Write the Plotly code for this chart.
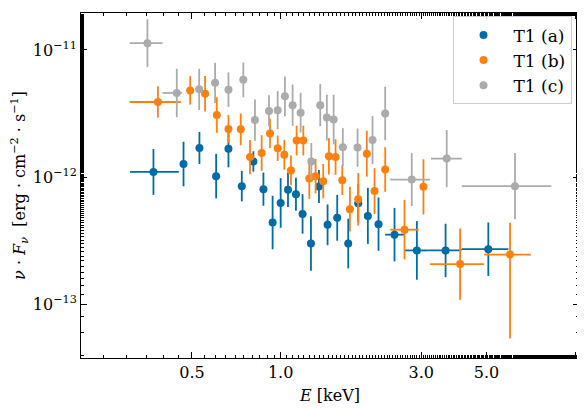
import numpy as np
import plotly.graph_objects as go

# --- data ---
E_a = [0.370,0.468,0.530,0.604,0.665,0.738,0.808,0.874,0.939,1.0,1.059,1.127,1.187,1.267,1.349,1.443,1.556,1.696,1.834,1.977,2.149,2.435,2.90,3.63,5.07]
F_a = [1.10,1.27,1.70,1.02,1.67,0.851,1.33,0.806,0.441,0.628,0.797,0.734,0.515,0.301,0.846,0.423,0.480,0.301,0.624,0.497,0.428,0.354,0.266,0.266,0.272]
dF_a = [0.18,0.175,0.126,0.175,0.145,0.12,0.08,0.13,0.21,0.195,0.136,0.13,0.155,0.214,0.13,0.16,0.18,0.195,0.15,0.22,0.21,0.21,0.23,0.21,0.21]
wide_a = {0:(0.308,0.451),21:(2.264,2.645),22:(2.645,3.17),23:(3.17,4.11),24:(4.11,5.93)}

E_b = [0.383,0.493,0.554,0.607,0.665,0.732,0.787,0.862,0.920,0.977,1.029,1.084,1.133,1.194,1.251,1.314,1.395,1.458,1.536,1.619,1.718,1.834,1.961,2.083,2.264,2.633,3.053,4.066,6.005]
F_b = [3.90,4.81,4.53,3.08,2.39,2.38,1.44,1.55,2.21,1.69,1.50,1.13,1.94,1.94,0.977,1.02,0.931,1.46,1.44,0.948,0.561,0.671,1.53,0.778,1.15,0.387,0.840,0.208,0.247]
dFu_b = [0.123,0.112,0.14,0.14,0.11,0.125,0.135,0.14,0.115,0.1,0.117,0.117,0.117,0.117,0.16,0.135,0.135,0.143,0.14,0.117,0.175,0.207,0.18,0.18,0.175,0.233,0.217,0.28,0.25]
dFd_b = dFu_b[:-1] + [0.66]
wide_b = {0:(0.307,0.458),25:(2.354,2.94),27:(3.214,4.90),28:(4.91,7.07)}

E_c = [0.353,0.444,0.529,0.599,0.665,0.747,0.818,0.913,0.977,1.034,1.098,1.169,1.271,1.363,1.435,1.513,1.626,1.824,2.051,2.264,2.787,3.662,6.245]
F_c = [11.3,4.59,4.90,5.51,4.87,5.82,2.81,3.32,3.36,4.32,3.68,3.21,1.33,3.68,2.94,2.84,1.72,1.71,1.96,3.17,0.959,1.40,0.851]
dF_c = [0.188,0.19,0.162,0.158,0.136,0.136,0.162,0.123,0.15,0.156,0.162,0.156,0.145,0.166,0.18,0.195,0.15,0.15,0.188,0.21,0.207,0.224,0.26]
wide_c = {0:(0.307,0.397),1:(0.397,0.462),20:(2.354,3.214),21:(3.24,4.12),22:(4.12,8.3)}

names = ["T1 (a)", "T1 (b)", "T1 (c)"]
colors = ["#006BA4", "#FF800E", "#ABABAB"]
NARROW = 0.012

def xerrs(E, wide):
    plus, minus = [], []
    for i, e in enumerate(E):
        if i in wide:
            lo, hi = wide[i]
        else:
            lo, hi = e * 10**-NARROW, e * 10**NARROW
        plus.append(hi - e); minus.append(e - lo)
    return plus, minus

fig = go.Figure()
series = [(E_a, F_a, dF_a, dF_a, wide_a), (E_b, F_b, dFu_b, dFd_b, wide_b), (E_c, F_c, dF_c, dF_c, wide_c)]
for (E, F, du, dd, wide), nm, col in zip(series, names, colors):
    F = np.array(F) * 1e-12
    du = np.array(du); dd = np.array(dd)
    xp, xm = xerrs(E, wide)
    fig.add_trace(go.Scatter(
        x=E, y=F, mode="markers", name=nm,
        marker=dict(color=col, size=8),
        error_y=dict(type="data", array=F * (10**du - 1), arrayminus=F * (1 - 10**-dd),
                     color=col, thickness=1.8, width=0),
        error_x=dict(type="data", array=xp, arrayminus=xm, color=col, thickness=1.8, width=0),
    ))

font = dict(family="DejaVu Serif", size=16, color="black")
axis_common = dict(type="log", showgrid=False, zeroline=False, showline=True, linecolor="black",
                   linewidth=1, mirror="allticks", ticks="inside", ticklen=6, tickcolor="black",
                   tickfont=font, automargin=False)
fig.update_xaxes(**axis_common, range=[np.log10(0.21), np.log10(10.3)],
                 tickvals=[0.5, 1.0, 3.0, 5.0, 10.0], ticktext=["0.5", "1.0", "3.0", "5.0", "10.0"],
                 minor=dict(ticks="inside", ticklen=3, tickcolor="black", showgrid=False),
                 title=dict(text="<i>E</i> [keV]", font=font, standoff=8))
fig.update_yaxes(**axis_common, range=[-13.42, -10.71],
                 tickvals=[1e-13, 1e-12, 1e-11],
                 ticktext=["10<sup>−13</sup>", "10<sup>−12</sup>", "10<sup>−11</sup>"],
                 minor=dict(ticks="inside", ticklen=3, tickcolor="black", showgrid=False),
                 title=dict(text="<i>ν</i> · <i>F<sub>ν</sub></i>  [erg · cm<sup>−2</sup> · s<sup>−1</sup>]",
                            font=font, standoff=4))
fig.update_layout(
    width=585, height=415, margin=dict(l=73, r=14, t=5, b=65),
    plot_bgcolor="white", paper_bgcolor="white", font=font,
    legend=dict(x=0.985, y=0.99, xanchor="right", yanchor="top", bgcolor="rgba(255,255,255,0.8)",
                bordercolor="#cccccc", borderwidth=1, font=dict(family="DejaVu Serif", size=17),
                tracegroupgap=10, itemwidth=50),
)
fig.write_html("out.html")
